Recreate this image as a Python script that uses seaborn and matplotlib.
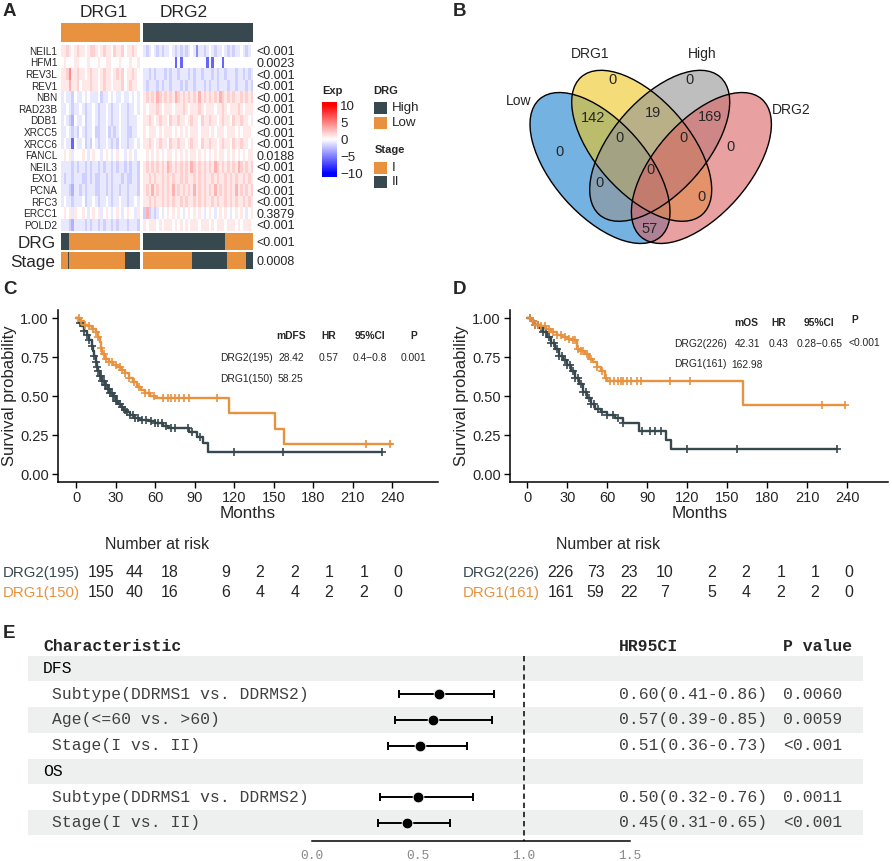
import numpy as np
import pandas as pd
import seaborn as sns
import matplotlib
matplotlib.use("Agg")
import matplotlib.pyplot as plt
from matplotlib.colors import LinearSegmentedColormap, ListedColormap, Normalize
from matplotlib.patches import Ellipse, Rectangle
from matplotlib.cm import ScalarMappable

sns.set_style("white")
plt.rcParams["font.family"] = ["Liberation Sans", "DejaVu Sans"]
MONO = ["Liberation Mono", "DejaVu Sans Mono"]

ORANGE = "#E8923F"
DARK = "#37484F"
BAND = "#EEF0F0"
W, H = 892, 861

# ---------------- A: heatmap ----------------
genes = ["NEIL1", "HFM1", "REV3L", "REV1", "NBN", "RAD23B", "DDB1", "XRCC5",
         "XRCC6", "FANCL", "NEIL3", "EXO1", "PCNA", "RFC3", "ERCC1", "POLD2"]
gene_p = ["<0.001", "0.0023", "<0.001", "<0.001", "<0.001", "<0.001", "<0.001", "<0.001",
          "<0.001", "0.0188", "<0.001", "<0.001", "<0.001", "<0.001", "0.3879", "<0.001"]
clusters = ["DRG1", "DRG2"]

# expression level per column ('5' = 0)
level_value = {"0": -6.0, "1": -4.5, "2": -3.0, "3": -1.8, "4": -0.9,
               "5": 0.0, "6": 0.9, "7": 1.8, "8": 3.0, "9": 4.5}
drg1_levels = [
    "6676567665 6776567665 7667566765",
    "5655566555 6555655665 5565556556",
    "6679667665 6766567665 6767566765",
    "6668667566 6766567665 6667567665",
    "4544354454 5444534454 5445445454",
    "4454344543 4454344543 4454434454",
    "4543254453 4454344543 4454434445",
    "4454343543 4453344534 3454433445",
    "4544054453 4354344543 4354434454",
    "5656455565 4565545654 5655456545",
    "4444343443 4344343443 4344343443",
    "4344344433 4343344343 4443433443",
    "4443244343 4443344343 4434434443",
    "4544344453 4454344543 4454434454",
    "5656465565 4565645654 5654565546",
    "4443244443 4344343443 4344434443",
]
drg2_levels = [
    "4345434344 5434343454 1443454344 5434344543 45",
    "5555555555 5505055555 5555050555 0555555555 55",
    "4434344434 3443444343 4434443434 4344434434 34",
    "4344434344 3444343443 4443434434 4434434443 43",
    "6767687676 7687676767 6867676768 7676766767 67",
    "6566676566 6566676566 6765666566 7656667656 66",
    "6676567665 7667665676 6576676656 7665766766 56",
    "6566656566 6565656566 6566656566 6566656566 65",
    "6676567665 7667665676 6576676656 7665766766 56",
    "5656565656 6565656566 5656565656 6565656565 66",
    "6767676768 7676767687 6767676876 7676768767 67",
    "6676766767 6766767667 6767667676 6767676676 76",
    "6768676767 6867676768 6767676867 6767686767 67",
    "6676766767 6766767667 6767667676 6767676676 76",
    "3834345456 5656545656 5654565456 5654565654 56",
    "6566656566 6565656566 6566656566 6566656566 65",
]

# bottom annotations, run lengths of samples
drg1_drg_runs = [("High", 17), ("Low", 144)]
drg2_drg_runs = [("High", 168), ("Low", 58)]
drg1_stage_runs = [("I", 15), ("II", 2), ("I", 113), ("II", 31)]
drg2_stage_runs = [("I", 101), ("II", 70), ("I", 39), ("II", 16)]
anno_names = ["DRG", "Stage"]
anno_p = ["<0.001", "0.0008"]

# ---------------- B: venn ----------------
venn_sets = ["Low", "DRG1", "High", "DRG2"]
venn_colors = ["#167FCD", "#EEC51E", "#939393", "#D96161"]
venn_counts = [0, 0, 0, 0, 142, 19, 169, 0, 0, 0, 0, 0, 57]

# ---------------- C / D: Kaplan-Meier ----------------
dfs_drg1_t = [0, 3, 6, 9, 12, 15, 17, 18, 19, 20, 22, 25, 28, 31, 34, 37, 40, 43, 46, 49,
              52, 56, 60, 116, 151, 158, 240]
dfs_drg1_s = [1.0, 0.98, 0.96, 0.95, 0.93, 0.91, 0.88, 0.85, 0.81, 0.77, 0.74, 0.72, 0.70,
              0.69, 0.67, 0.65, 0.62, 0.59, 0.56, 0.54, 0.52, 0.50, 0.49, 0.39, 0.29, 0.195, 0.195]
dfs_drg1_cens = [2, 4, 7, 10, 13, 15, 17, 19, 21, 23, 25, 27, 30, 33, 35, 37, 40, 44, 48, 52,
                 55, 59, 66, 70, 72, 75, 78, 82, 86, 107, 220, 238]
dfs_drg2_t = [0, 2, 4, 6, 8, 10, 12, 13, 14, 15, 16, 17, 18, 20, 22, 24, 26, 28, 30, 32,
              34, 36, 38, 41, 44, 48, 55, 60, 66, 70, 86, 92, 96, 100, 232]
dfs_drg2_s = [1.0, 0.97, 0.95, 0.92, 0.89, 0.86, 0.82, 0.79, 0.76, 0.72, 0.69, 0.66, 0.63,
              0.60, 0.57, 0.55, 0.52, 0.50, 0.47, 0.45, 0.43, 0.41, 0.40, 0.38, 0.36, 0.35,
              0.34, 0.33, 0.31, 0.295, 0.27, 0.24, 0.20, 0.145, 0.145]
dfs_drg2_cens = [3, 6, 8, 10, 12, 14, 15, 16, 17, 18, 19, 20, 21, 22, 23, 24, 25, 26, 27, 28,
                 29, 30, 31, 33, 35, 37, 39, 41, 43, 45, 47, 50, 53, 57, 60, 62, 65, 68, 72,
                 75, 85, 88, 94, 120, 157, 232]

os_drg1_t = [0, 3, 6, 10, 14, 18, 22, 26, 30, 34, 37, 40, 43, 46, 49, 52, 55, 58, 60, 162, 238]
os_drg1_s = [1.0, 0.98, 0.96, 0.95, 0.93, 0.91, 0.89, 0.88, 0.87, 0.86, 0.80, 0.79, 0.77,
             0.74, 0.72, 0.69, 0.66, 0.62, 0.60, 0.447, 0.447]
os_drg1_cens = [2, 4, 6, 8, 10, 13, 16, 19, 22, 25, 28, 31, 34, 36, 38, 40, 42, 45, 48, 52,
                56, 59, 62, 65, 68, 70, 72, 75, 78, 82, 85, 107, 122, 221, 238]
os_drg2_t = [0, 3, 6, 9, 12, 15, 18, 21, 24, 27, 30, 33, 36, 39, 42, 45, 48, 51, 55, 60,
             66, 72, 84, 104, 108, 232]
os_drg2_s = [1.0, 0.98, 0.96, 0.94, 0.91, 0.88, 0.84, 0.80, 0.76, 0.73, 0.70, 0.66, 0.62,
             0.58, 0.53, 0.49, 0.45, 0.42, 0.40, 0.38, 0.36, 0.33, 0.275, 0.22, 0.165, 0.165]
os_drg2_cens = [2, 4, 6, 8, 10, 12, 14, 16, 18, 20, 22, 24, 26, 28, 30, 32, 34, 36, 38, 40,
                42, 44, 46, 48, 50, 53, 56, 60, 64, 68, 72, 86, 92, 96, 100, 120, 157, 232]

dfs_table = [["", "mDFS", "HR", "95%CI", "P"],
             ["DRG2(195)", "28.42", "0.57", "0.4\u22120.8", "0.001"],
             ["DRG1(150)", "58.25", "", "", ""]]
os_table = [["", "mOS", "HR", "95%CI", "P"],
            ["DRG2(226)", "42.31", "0.43", "0.28\u22120.65", "<0.001"],
            ["DRG1(161)", "162.98", "", "", ""]]

dfs_risk_names = ["DRG2(195)", "DRG1(150)"]
dfs_risk = [[195, 44, 18, 9, 2, 2, 1, 1, 0], [150, 40, 16, 6, 4, 4, 2, 2, 0]]
os_risk_names = ["DRG2(226)", "DRG1(161)"]
os_risk = [[226, 73, 23, 10, 2, 2, 1, 1, 0], [161, 59, 22, 7, 5, 4, 2, 2, 0]]

# ---------------- E: forest ----------------
forest_labels = ["DFS", "Subtype(DDRMS1 vs. DDRMS2)", "Age(<=60 vs. >60)", "Stage(I vs. II)",
                 "OS", "Subtype(DDRMS1 vs. DDRMS2)", "Stage(I vs. II)"]
forest_hr = [np.nan, 0.60, 0.57, 0.51, np.nan, 0.50, 0.45]
forest_lo = [np.nan, 0.41, 0.39, 0.36, np.nan, 0.32, 0.31]
forest_hi = [np.nan, 0.86, 0.85, 0.73, np.nan, 0.76, 0.65]
forest_ci = ["", "0.60(0.41-0.86)", "0.57(0.39-0.85)", "0.51(0.36-0.73)", "",
             "0.50(0.32-0.76)", "0.45(0.31-0.65)"]
forest_p = ["", "0.0060", "0.0059", "<0.001", "", "0.0011", "<0.001"]


fig = plt.figure(figsize=(W / 100, H / 100), dpi=100)


def px_axes(x0, y0, x1, y1, **kw):
    return fig.add_axes([x0 / W, 1 - y1 / H, (x1 - x0) / W, (y1 - y0) / H], **kw)


def decode(rows):
    return np.array([[level_value[c] for c in r.replace(" ", "")] for r in rows])


drg_codes = {"Low": 0, "High": 1}
stage_codes = {"I": 0, "II": 1}


def expand(runs, codes):
    return np.array([[codes[k] for k, n in runs for _ in range(n)]])


exp_cmap = LinearSegmentedColormap.from_list("exp", ["blue", "white", "red"])
anno_cmap = ListedColormap([ORANGE, DARK])

expr = [pd.DataFrame(decode(drg1_levels), index=genes),
        pd.DataFrame(decode(drg2_levels), index=genes)]
xs = [(61, 139.7), (143.3, 253.3)]
anno_rows = [[expand(drg1_drg_runs, drg_codes), expand(drg2_drg_runs, drg_codes)],
             [expand(drg1_stage_runs, stage_codes), expand(drg2_stage_runs, stage_codes)]]
anno_y = [(233.3, 250), (251.7, 269.3)]

for g, (x0, x1) in enumerate(xs):
    # top cluster bar
    ax = px_axes(x0, 23.3, x1, 41.7)
    sns.heatmap(np.full((1, expr[g].shape[1]), g), cmap=anno_cmap, vmin=0, vmax=1,
                cbar=False, xticklabels=False, yticklabels=False, ax=ax)
    # expression
    ax = px_axes(x0, 45, x1, 230.7)
    sns.heatmap(expr[g], cmap=exp_cmap, vmin=-10, vmax=10, cbar=False,
                xticklabels=False, yticklabels=False, ax=ax)
    ax.set_yticks(np.arange(len(genes)) + 0.5)
    if g == 0:
        ax.set_yticklabels(genes, fontsize=7.2, rotation=0)
        ax.tick_params(axis="y", length=0, pad=2.6)
    else:
        ax.set_yticklabels(gene_p, fontsize=9, rotation=0)
        ax.yaxis.tick_right()
        ax.tick_params(axis="y", length=0, pad=2.4)
    ax.set_ylabel("")
    # bottom annotations
    for r, (y0, y1) in enumerate(anno_y):
        ax = px_axes(x0, y0, x1, y1)
        sns.heatmap(anno_rows[r][g], cmap=anno_cmap, vmin=0, vmax=1, cbar=False,
                    xticklabels=False, yticklabels=False, ax=ax)
        ax.set_yticks([0.5])
        if g == 0:
            ax.set_yticklabels([anno_names[r]], fontsize=12.3, rotation=0)
            ax.tick_params(axis="y", length=0, pad=4)
        else:
            ax.set_yticklabels([anno_p[r]], fontsize=9, rotation=0)
            ax.yaxis.tick_right()
            ax.tick_params(axis="y", length=0, pad=2.4)

# colour bar legend
cax = px_axes(321.7, 101.7, 337.3, 176.7)
bar_cmap = LinearSegmentedColormap.from_list(
    "expbar", [(0, "blue"), (1 / 22, "blue"), (0.5, "white"), (21 / 22, "red"), (1, "red")])
cb = fig.colorbar(ScalarMappable(norm=Normalize(-11, 11), cmap=bar_cmap), cax=cax)
cb.outline.set_visible(False)
cb.set_ticks([-10, -5, 0, 5, 10])
cb.ax.tick_params(labelsize=9.6, length=3.5, width=0.9, color="white", direction="in",
                  left=True, right=True, pad=2)

ov = fig.add_axes([0, 0, 1, 1], zorder=5)
ov.set_xlim(0, W)
ov.set_ylim(H, 0)
ov.axis("off")

ov.text(104, 12.7, clusters[0], fontsize=12.5, ha="center", va="center")
ov.text(184, 12.7, clusters[1], fontsize=12.5, ha="center", va="center")

ov.text(322, 91, "Exp", fontsize=8, fontweight="bold", va="center")
ov.text(373.3, 91, "DRG", fontsize=8, fontweight="bold", va="center")
ov.text(374.3, 150, "Stage", fontsize=8, fontweight="bold", va="center")
legend_items = [("High", DARK, 102.3), ("Low", ORANGE, 117.3), ("I", ORANGE, 161.7), ("II", DARK, 175.7)]
for name, col, y in legend_items:
    ov.add_patch(Rectangle((374.3, y), 12.4, 12.2, facecolor=col, edgecolor="none"))
    ov.text(391.7, y + 6.2, name, fontsize=9.6, va="center")

# ---------------- B ----------------
ell_a, ell_b = 91.6, 47
ell_layout = [(600, 168, 48.7), (641.7, 145.8, 48.7), (659.7, 145.8, -48.7), (701.4, 168, -48.7)]
for (cx, cy, ang), col in zip(ell_layout, venn_colors):
    ov.add_patch(Ellipse((cx, cy), 2 * ell_a, 2 * ell_b, angle=ang, facecolor=col,
                         alpha=0.6, edgecolor="none"))
for cx, cy, ang in ell_layout:
    ov.add_patch(Ellipse((cx, cy), 2 * ell_a, 2 * ell_b, angle=ang, fill=False,
                         edgecolor="black", lw=1.0))
set_label_pos = [(519, 101), (590, 54.3), (702.5, 54.3), (791.7, 110)]
for name, (x, y) in zip(venn_sets, set_label_pos):
    ov.text(x, y, name, fontsize=10, ha="center", va="center")
count_pos = [(560, 151.7), (612.7, 80), (689.3, 80), (730.7, 146.7), (593.3, 118.3),
             (652.7, 113.3), (710, 116.7), (619.3, 138.3), (683.3, 138.3), (650.7, 170),
             (600, 183.3), (702, 196.7), (649.3, 229.3)]
for n, (x, y) in zip(venn_counts, count_pos):
    ov.text(x, y, str(n), fontsize=10.5, ha="center", va="center")


# ---------------- C / D ----------------
def step_value(t, s, c):
    idx = np.searchsorted(t, c, side="right") - 1
    return np.asarray(s)[idx]


def km_panel(ax, curves, xlim, table, tx, ty):
    for t, s, cens, col in curves:
        sns.lineplot(data=pd.DataFrame({"time": t, "surv": s}), x="time", y="surv",
                     drawstyle="steps-post", color=col, lw=1.7, estimator=None, sort=False, ax=ax)
        cdf = pd.DataFrame({"time": cens, "surv": step_value(t, s, cens)})
        sns.scatterplot(data=cdf, x="time", y="surv", marker="+", s=38, color=col,
                        linewidth=1.2, ax=ax, zorder=3)
    ax.set_xlim(*xlim)
    ax.set_ylim(-0.047, 1.053)
    ax.set_xticks(range(0, 241, 30))
    ax.set_yticks([0, 0.25, 0.5, 0.75, 1.0])
    ax.set_yticklabels(["0.00", "0.25", "0.50", "0.75", "1.00"])
    ax.set_xlabel("")
    ax.set_ylabel("")
    sns.despine(ax=ax)
    for sp in ["left", "bottom"]:
        ax.spines[sp].set_linewidth(1.1)
        ax.spines[sp].set_color("black")
    ax.tick_params(length=4, width=1.0, labelsize=10.5, color="black", pad=2.5, left=True, bottom=True)
    for r, row in enumerate(table):
        for c, txt in enumerate(row):
            if txt:
                ax.text(tx[r][c], ty[r][c], txt, fontsize=7.4, ha="center", va="center",
                        fontweight="bold" if r == 0 else "normal")


ax_c = px_axes(58, 310, 438, 481.7)
km_panel(ax_c, [(dfs_drg2_t, dfs_drg2_s, dfs_drg2_cens, DARK),
                (dfs_drg1_t, dfs_drg1_s, dfs_drg1_cens, ORANGE)],
         (-13.7, 274.7), dfs_table,
         [[129.5, 163, 192, 223, 256]] * 3,
         [[0.887] * 5, [0.746] * 5, [0.612] * 5])

ax_d = px_axes(510, 310, 888.3, 481.7)
km_panel(ax_d, [(os_drg2_t, os_drg2_s, os_drg2_cens, DARK),
                (os_drg1_t, os_drg1_s, os_drg1_cens, ORANGE)],
         (-13, 270.8), os_table,
         [[129.7, 164.6, 188.6, 219, 245.3], [129.7, 165, 188.6, 219, 253], [129.7, 164.6, 0, 0, 0]],
         [[0.972, 0.972, 0.972, 0.972, 0.987], [0.833, 0.833, 0.833, 0.833, 0.844],
          [0.707, 0.70, 0, 0, 0]])

for x in (10, 461.7):
    ov.text(x, 395.8, "Survival probability", fontsize=12, rotation=90, ha="center", va="center")
for x in (248, 699.2):
    ov.text(x, 513.3, "Months", fontsize=12.3, ha="center", va="center")

# risk tables
risk_x = [[100.7, 135, 170, 226, 260, 295, 329, 364, 398],
          [560.7, 595.7, 629.3, 664.3, 711.7, 746, 780.7, 815, 849.3]]
for k, (names, tab, x_title, x_lab) in enumerate([(dfs_risk_names, dfs_risk, 156.7, 3),
                                                    (os_risk_names, os_risk, 608.3, 462.7)]):
    ov.text(x_title, 544.3, "Number at risk", fontsize=11.5, ha="center", va="center")
    for nm, vals, col, y in zip(names, tab, [DARK, ORANGE], [572.7, 592.7]):
        ov.text(x_lab, y, nm, fontsize=10.8, color=col, ha="left", va="center")
        for xv, v in zip(risk_x[k], vals):
            ov.text(xv, y, str(v), fontsize=11.5, ha="center", va="center")

# ---------------- E ----------------
ax_e = px_axes(28.3, 630, 863.3, 840.7)
rows = np.arange(len(forest_labels))
for i in [0, 2, 4, 6]:
    ax_e.axhspan(i - 0.49, i + 0.49, color=BAND, lw=0, zorder=0)
ax_e.vlines(1.0, -0.49, 6.70, colors="black", linestyles=(0, (3.5, 2.5)), lw=1.1, zorder=1)
hr = np.array(forest_hr)
ax_e.errorbar(hr, rows, xerr=[hr - np.array(forest_lo), np.array(forest_hi) - hr], fmt="none",
              ecolor="black", elinewidth=1.4, capsize=2.6, capthick=1.4, zorder=2)
sns.scatterplot(x=hr, y=rows, s=60, color="black", ax=ax_e, zorder=3)
ax_e.set_xlim(-1.341, 2.603)
ax_e.set_ylim(6.70, -1.5)
for sp in ["top", "left", "right"]:
    ax_e.spines[sp].set_visible(False)
ax_e.spines["bottom"].set_bounds(0, 1.5)
ax_e.spines["bottom"].set_linewidth(1.1)
ax_e.spines["bottom"].set_color("black")
ax_e.set_yticks([])
ax_e.set_xticks([0, 0.5, 1.0, 1.5])
ax_e.set_xticklabels(["0.0", "0.5", "1.0", "1.5"], family=MONO, fontsize=9.3, color="#888888")
ax_e.set_xticks([0, 1.5], minor=True)
ax_e.tick_params(axis="x", which="major", length=0, pad=7)
ax_e.tick_params(axis="x", which="minor", length=5, width=1.1, direction="in", color="black", bottom=True)
ax_e.set_xlabel("")
ax_e.set_ylabel("")

hdr_y = -0.85
ax_e.text(-1.271, hdr_y, "Characteristic", family=MONO, fontweight="bold", fontsize=11.8, va="center")
ax_e.text(1.447, hdr_y, "HR95CI", family=MONO, fontweight="bold", fontsize=11.8, va="center")
ax_e.text(2.223, hdr_y, "P value", family=MONO, fontweight="bold", fontsize=11.8, va="center")
for i, lab in enumerate(forest_labels):
    group = np.isnan(forest_hr[i])
    ax_e.text(-1.271 if group else -1.228, i, lab, family=MONO, fontsize=11.8,
              color="black" if group else "#404040", va="center")
    ax_e.text(1.447, i, forest_ci[i], family=MONO, fontsize=11.8, color="#404040", va="center")
    ax_e.text(2.223, i, forest_p[i], family=MONO, fontsize=11.8, color="#404040", va="center")

# panel letters
for letter, x, y in [("A", 3, 11.7), ("B", 453, 12), ("C", 3, 289), ("D", 453, 289.5), ("E", 3, 634)]:
    ov.text(x, y, letter, fontsize=13.5, fontweight="bold", ha="left", va="center")

fig.savefig("out.png", dpi=100)
